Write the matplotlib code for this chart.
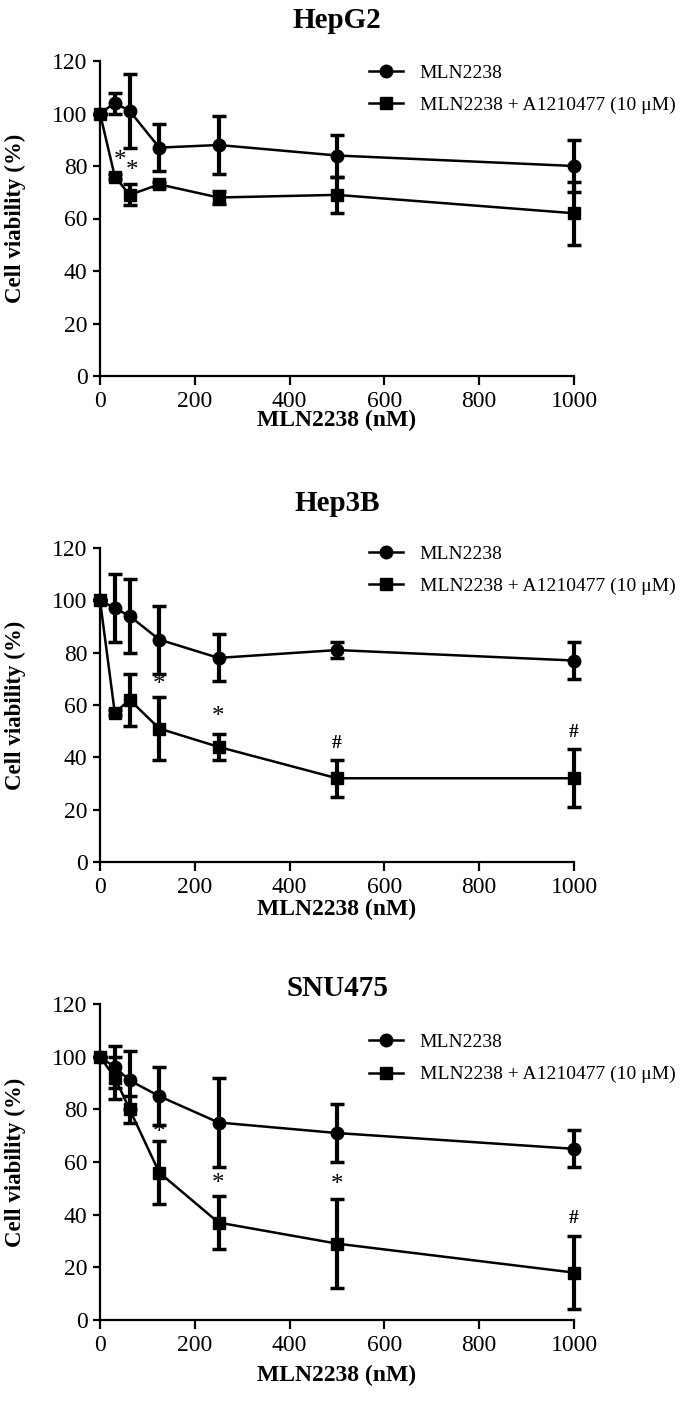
import matplotlib
matplotlib.use('Agg')
import matplotlib.pyplot as plt

# ---------------- data ----------------
doses = [0, 31.25, 62.5, 125, 250, 500, 1000]
titles = ['HepG2', 'Hep3B', 'SNU475']
label_single = 'MLN2238'
label_combo = 'MLN2238 + A1210477 (10 \u03bcM)'

mln_mean = [[100, 104, 101, 87, 88, 84, 80],
            [100, 97, 94, 85, 78, 81, 77],
            [100, 96, 91, 85, 75, 71, 65]]
mln_err = [[0, 4, 14, 9, 11, 8, 10],
           [0, 13, 14, 13, 9, 3, 7],
           [0, 8, 11, 11, 17, 11, 7]]
combo_mean = [[100, 76, 69, 73, 68, 69, 62],
              [100, 57, 62, 51, 44, 32, 32],
              [100, 92, 80, 56, 37, 29, 18]]
combo_err = [[0, 1, 4, 1, 2.5, 7, 12],
             [0, 1, 10, 12, 5, 7, 11],
             [0, 8, 5, 12, 10, 17, 14]]

annot_text = [['*', '*'],
              ['*', '*', '#', '#'],
              ['*', '*', '*', '#']]
annot_x = [[42, 67],
           [125, 250, 500, 1000],
           [125, 250, 500, 1000]]
annot_y = [[82, 78],
           [67.6, 55.5, 45.3, 49.4],
           [71, 51.6, 51.3, 38.6]]

xticks = [0, 200, 400, 600, 800, 1000]
yticks = [0, 20, 40, 60, 80, 100, 120]
xlabel = 'MLN2238 (nM)'
ylabel = 'Cell viability (%)'

# ---------------- layout ----------------
W, H = 685, 1413
fig = plt.figure(figsize=(W / 100, H / 100), dpi=100)
plt.rcParams['font.family'] = ['Liberation Serif', 'DejaVu Serif']

# (left px, top px of y=120, bottom px of y=0)
panel_px = [(100, 61, 376), (100, 548, 862), (100, 1004, 1320)]
right_px = 574
title_y = [1.127, 1.143, 1.05]
xlabel_y = [-0.14, -0.152, -0.174]
legend_y = [0.911, 0.930, 0.8275]

for i in range(3):
    lx, ty, by = panel_px[i]
    ax = fig.add_axes([lx / W, (H - by) / H, (right_px - lx) / W, (by - ty) / H])

    ax.errorbar(doses, mln_mean[i], yerr=mln_err[i], fmt='none', ecolor='black',
                elinewidth=3, capsize=5, capthick=2.5, clip_on=False, zorder=2)
    ax.errorbar(doses, combo_mean[i], yerr=combo_err[i], fmt='none', ecolor='black',
                elinewidth=3, capsize=5, capthick=2.5, clip_on=False, zorder=2)
    ax.plot(doses, mln_mean[i], color='black', lw=1.8, marker='o', ms=9,
            label=label_single, clip_on=False, zorder=3)
    ax.plot(doses, combo_mean[i], color='black', lw=1.8, marker='s', ms=8.5,
            label=label_combo, clip_on=False, zorder=3)

    for t, xx, yy in zip(annot_text[i], annot_x[i], annot_y[i]):
        ax.text(xx, yy, t, ha='center', va='center',
                fontsize=18 if t == '*' else 14,
                fontweight='normal' if t == '*' else 'bold', zorder=4)

    ax.set_xlim(0, 1000)
    ax.set_ylim(0, 120)
    ax.set_xticks(xticks)
    ax.set_yticks(yticks)
    for s in ['top', 'right']:
        ax.spines[s].set_visible(False)
    for s in ['left', 'bottom']:
        ax.spines[s].set_linewidth(1.6)
    ax.tick_params(axis='x', length=6.5, width=1.6, labelsize=17, pad=4)
    ax.tick_params(axis='y', length=5, width=1.6, labelsize=17, pad=4)

    ax.set_xlabel(xlabel, fontsize=17, fontweight='bold', va='center')
    ax.xaxis.set_label_coords(0.5, xlabel_y[i])
    ax.set_ylabel(ylabel, fontsize=16.5, fontweight='bold', va='center')
    ax.yaxis.set_label_coords(-0.179, 0.5)

    ax.text(0.5, title_y[i], titles[i], transform=ax.transAxes, ha='center',
            va='center', fontsize=21, fontweight='bold')

    ax.legend(loc='center left', bbox_to_anchor=(0.5675, legend_y[i]),
              frameon=False, fontsize=14, handlelength=1.75, handletextpad=0.85,
              labelspacing=0.75, borderpad=0, borderaxespad=0, numpoints=1)

fig.savefig('out.png', dpi=100)
